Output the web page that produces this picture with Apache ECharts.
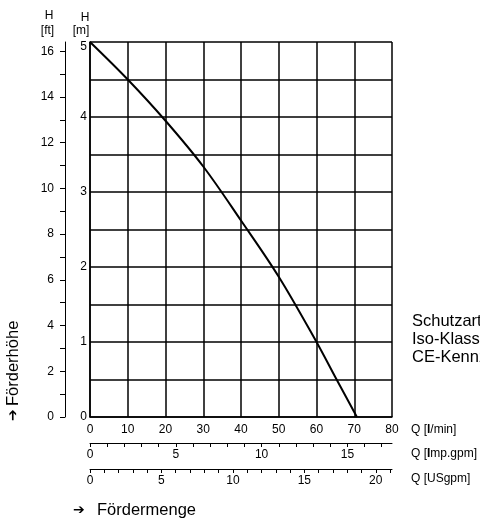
<!DOCTYPE html>
<html>
<head>
<meta charset="utf-8">
<script src="https://cdn.jsdelivr.net/npm/echarts@6/dist/echarts.min.js"></script>
<style>html,body{margin:0;padding:0;background:#fff;overflow:hidden}#c{width:480px;height:522px}</style>
</head>
<body>
<div id="c"></div>
<script>
// Pump curve: flow Q [l/min] vs head H [m]
const flowLmin = [0, 10, 20, 30, 40, 50, 60, 65, 70.7];
const headM    = [5.0, 4.5, 3.95, 3.34, 2.62, 1.87, 1.0, 0.53, 0.0];

const mLabels = [0, 1, 2, 3, 4, 5];
const ftLabels = [0, 2, 4, 6, 8, 10, 12, 14, 16];
const ftTicks = [0,1,2,3,4,5,6,7,8,9,10,11,12,13,14,15,16];
const impLabels = [0, 5, 10, 15];
const impTicks = [0,1,2,3,4,5,6,7,8,9,10,11,12,13,14,15,16,17];
const usLabels = [0, 5, 10, 15, 20];
const usTicks = [0,1,2,3,4,5,6,7,8,9,10,11,12,13,14,15,16,17,18,19,20,21];

const Q_MAX = 80, H_MAX = 5;
const FT_PER_M = 3.28084, L_PER_IMP = 4.54609, L_PER_US = 3.78541;

const FONT = '"Liberation Sans", Arial, sans-serif';
const lbl = {color:'#000', fontSize:12, fontFamily:FONT};
const blk = {color:'#000', width:1};
const big = '16.5px ' + FONT;

const chart = echarts.init(document.getElementById('c'), null, {renderer:'canvas'});
chart.setOption({
  animation:false,
  backgroundColor:'#fff',
  grid:{left:90, top:42, width:302, height:375, containLabel:false},
  xAxis:[
    {type:'value', min:0, max:Q_MAX, interval:10, position:'bottom',
     axisLine:{show:true, lineStyle:{color:'#000', width:1.5}},
     axisTick:{show:false},
     axisLabel:Object.assign({margin:7}, lbl),
     splitLine:{show:true, lineStyle:{color:'#000', width:1.5}}},
    {type:'value', min:0, max:Q_MAX/L_PER_IMP, position:'bottom', offset:26,
     axisLine:{show:true, onZero:false, lineStyle:blk},
     axisTick:{show:true, length:4, inside:false, customValues:impTicks, lineStyle:blk},
     axisLabel:Object.assign({margin:6, customValues:impLabels}, lbl),
     splitLine:{show:false}},
    {type:'value', min:0, max:Q_MAX/L_PER_US, position:'bottom', offset:52,
     axisLine:{show:true, onZero:false, lineStyle:blk},
     axisTick:{show:true, length:4, inside:false, customValues:usTicks, lineStyle:blk},
     axisLabel:Object.assign({margin:6, customValues:usLabels}, lbl),
     splitLine:{show:false}}
  ],
  yAxis:[
    {type:'value', min:0, max:H_MAX, interval:0.5, position:'left',
     axisLine:{show:true, lineStyle:{color:'#000', width:1.5}},
     axisTick:{show:false},
     axisLabel:Object.assign({margin:3, customValues:mLabels,
       formatter:v => v === H_MAX ? '{t|' + v + '}' : String(v),
       rich:{t:{fontSize:12, fontFamily:FONT, color:'#000', padding:[9,0,0,0]}}}, lbl),
     splitLine:{show:true, lineStyle:{color:'#000', width:1.5}}},
    {type:'value', min:0, max:H_MAX*FT_PER_M, position:'left', offset:25,
     axisLine:{show:true, onZero:false, lineStyle:blk},
     axisTick:{show:true, length:5, customValues:ftTicks, lineStyle:blk},
     axisLabel:Object.assign({margin:11, customValues:ftLabels}, lbl),
     splitLine:{show:false}}
  ],
  series:[{
    type:'line', xAxisIndex:0, yAxisIndex:0, smooth:0.35, symbol:'none',
    lineStyle:{color:'#000', width:2},
    data: flowLmin.map((q,i)=>[q, headM[i]])
  }],
  graphic:[
    {type:'text', x:49, y:16, style:{text:'H', fill:'#000', font:'12px '+FONT, textAlign:'center', textVerticalAlign:'middle'}},
    {type:'text', x:47.5, y:31, style:{text:'[ft]', fill:'#000', font:'12px '+FONT, textAlign:'center', textVerticalAlign:'middle'}},
    {type:'text', x:85, y:18, style:{text:'H', fill:'#000', font:'12px '+FONT, textAlign:'center', textVerticalAlign:'middle'}},
    {type:'text', x:81, y:31, style:{text:'[m]', fill:'#000', font:'12px '+FONT, textAlign:'center', textVerticalAlign:'middle'}},
    {type:'text', x:411, y:430, style:{text:'Q [{b|l}/min]', rich:{b:{fontWeight:'bold', fontSize:12, fontFamily:FONT, fill:'#000'}}, fill:'#000', font:'12px '+FONT, textVerticalAlign:'middle'}},
    {type:'text', x:411, y:454, style:{text:'Q [{b|I}mp.gpm]', rich:{b:{fontWeight:'bold', fontSize:12, fontFamily:FONT, fill:'#000'}}, fill:'#000', font:'12px '+FONT, textVerticalAlign:'middle'}},
    {type:'text', x:411, y:479, style:{text:'Q [USgpm]', fill:'#000', font:'12px '+FONT, textVerticalAlign:'middle'}},
    {type:'text', x:412, y:321, style:{text:'Schutzart', fill:'#000', font:big, textVerticalAlign:'middle'}},
    {type:'text', x:412, y:339, style:{text:'Iso-Klasse', fill:'#000', font:big, textVerticalAlign:'middle'}},
    {type:'text', x:412, y:357, style:{text:'CE-Kennzeichen', fill:'#000', font:big, textVerticalAlign:'middle'}},
    {type:'text', x:73, y:510, style:{text:'➔', fill:'#000', font:'bold 14px "DejaVu Sans", sans-serif', textVerticalAlign:'middle'}},
    {type:'text', x:97, y:510, style:{text:'Fördermenge', fill:'#000', font:big, textVerticalAlign:'middle'}},
    {type:'text', x:13, y:421, rotation:Math.PI/2,
     style:{text:'➔', fill:'#000', font:'bold 14px "DejaVu Sans", sans-serif', textAlign:'left', textVerticalAlign:'middle'}},
    {type:'text', x:13, y:406, rotation:Math.PI/2,
     style:{text:'Förderhöhe', fill:'#000', font:big, textAlign:'left', textVerticalAlign:'middle'}}
  ]
});
</script>
</body>
</html>
